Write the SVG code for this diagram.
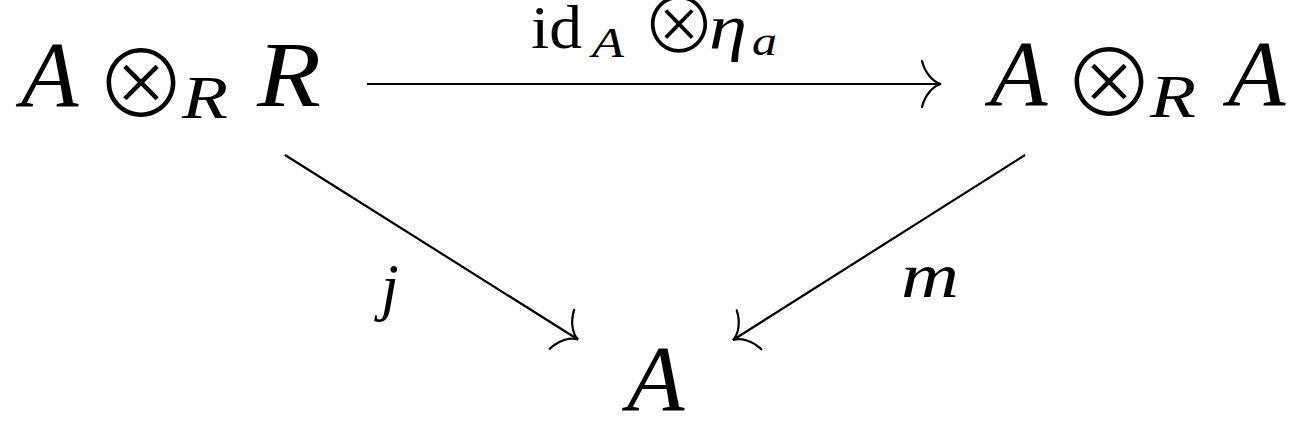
<svg xmlns="http://www.w3.org/2000/svg" width="1295" height="427" viewBox="0 0 1295 427">
<style>
.m{font-family:"Liberation Serif","DejaVu Serif",serif;font-style:italic;fill:#000}
.r{font-family:"Liberation Serif","DejaVu Serif",serif;fill:#000}
.o{font-family:"Noto Sans CJK SC",sans-serif;font-weight:300;fill:#000}
.e{stroke:#000;stroke-width:2.2;fill:none}
</style>
<defs>
<marker id="ah" markerUnits="userSpaceOnUse" viewBox="-22 -25 26 50" refX="0" refY="0" markerWidth="26" markerHeight="50" orient="auto">
<path d="M-19,-23 C-16,-11 -8,-2 0,0 C-8,2 -16,11 -19,23" fill="none" stroke="#000" stroke-width="2.2" stroke-linecap="round"/>
</marker>
</defs>
<rect width="1295" height="427" fill="#fff"/>
<g id="connectors">
<line class="e" x1="367" y1="84" x2="941" y2="84" marker-end="url(#ah)"/>
<line class="e" x1="285" y1="155" x2="578" y2="339.5" marker-end="url(#ah)"/>
<line class="e" x1="1025" y1="155" x2="733" y2="340" marker-end="url(#ah)"/>
<g id="label-top">
<text class="r" x="531" y="48" font-size="62" textLength="51" lengthAdjust="spacingAndGlyphs">id</text>
<text class="m" x="592" y="57" font-size="42" textLength="32" lengthAdjust="spacingAndGlyphs">A</text>
<text class="o" x="679" y="53" font-size="76" text-anchor="middle">⊗</text>
<text class="m" x="709" y="48" font-size="64" textLength="38" lengthAdjust="spacingAndGlyphs">η</text>
<text class="m" x="752" y="55" font-size="42" textLength="25" lengthAdjust="spacingAndGlyphs">a</text>
</g>
<text id="label-j" class="m" x="381" y="308" font-size="64">j</text>
<text id="label-m" class="m" x="901" y="297" font-size="64" textLength="58" lengthAdjust="spacingAndGlyphs">m</text>
</g>
<g id="node-AR">
<text class="m" x="21" y="106" font-size="94">A</text>
<text class="o" x="141" y="118" font-size="93" text-anchor="middle">⊗</text>
<text class="m" x="182" y="118" font-size="62" textLength="46" lengthAdjust="spacingAndGlyphs">R</text>
<text class="m" x="257" y="106" font-size="94" textLength="64" lengthAdjust="spacingAndGlyphs">R</text>
</g>
<g id="node-AA">
<text class="m" x="990" y="105" font-size="94">A</text>
<text class="o" x="1109" y="117" font-size="93" text-anchor="middle">⊗</text>
<text class="m" x="1150" y="117" font-size="62" textLength="46" lengthAdjust="spacingAndGlyphs">R</text>
<text class="m" x="1228" y="105" font-size="94">A</text>
</g>
<g id="node-A">
<text class="m" x="627" y="410" font-size="94">A</text>
</g>
</svg>
